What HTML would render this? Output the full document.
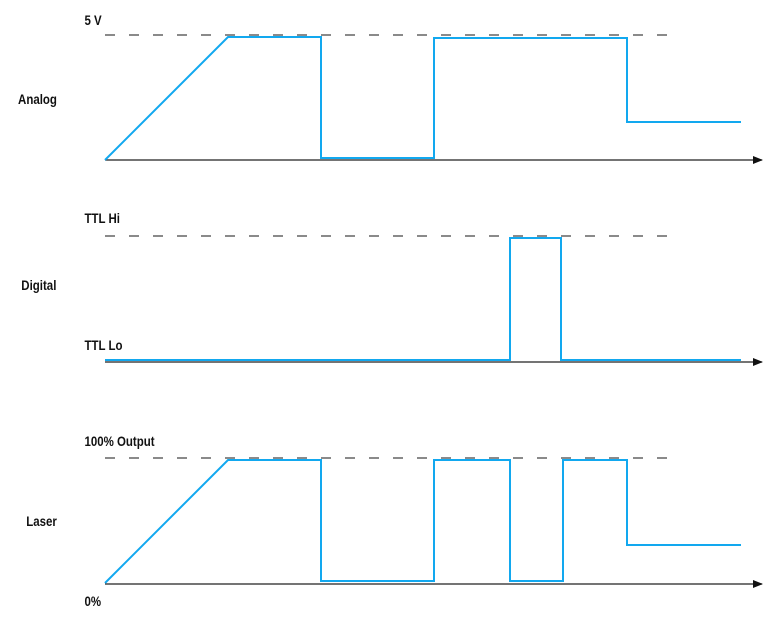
<!DOCTYPE html>
<html><head><style>body{margin:0;background:#fff}svg{display:block}text{font-family:"Liberation Sans",sans-serif;font-size:14px;font-weight:bold;fill:#111}</style></head><body>
<svg width="780" height="620" viewBox="0 0 780 620">
<defs><marker id="a" markerWidth="10" markerHeight="8" refX="9" refY="4" orient="auto" markerUnits="userSpaceOnUse"><path d="M0,0 L10,4 L0,8 Z" fill="#111"/></marker></defs>
<g stroke="#444" stroke-width="1.3" stroke-dasharray="10,14">
<line x1="105" y1="35" x2="670" y2="35"/><line x1="105" y1="236" x2="670" y2="236"/><line x1="105" y1="458" x2="670" y2="458"/></g>
<g stroke="#222" stroke-width="1.3" marker-end="url(#a)">
<line x1="105" y1="160" x2="762" y2="160"/><line x1="105" y1="362" x2="762" y2="362"/><line x1="105" y1="584" x2="762" y2="584"/></g>
<g fill="none" stroke="#12a8ef" stroke-width="2">
<polyline points="105,160 228,37 321,37 321,158 434,158 434,38 627,38 627,122 741,122"/>
<polyline points="105,360 510,360 510,238 561,238 561,360 741,360"/>
<polyline points="105,583 228,460 321,460 321,581 434,581 434,460 510,460 510,581 563,581 563,460 627,460 627,545 741,545"/>
</g>
<g transform="scale(0.82,1)">
<text x="103" y="25">5 V</text>
<text x="22" y="104">Analog</text>
<text x="103" y="223">TTL Hi</text>
<text x="26" y="290">Digital</text>
<text x="103" y="350">TTL Lo</text>
<text x="103" y="446">100% Output</text>
<text x="32" y="526">Laser</text>
<text x="103" y="606">0%</text>
</g>
</svg>
</body></html>
